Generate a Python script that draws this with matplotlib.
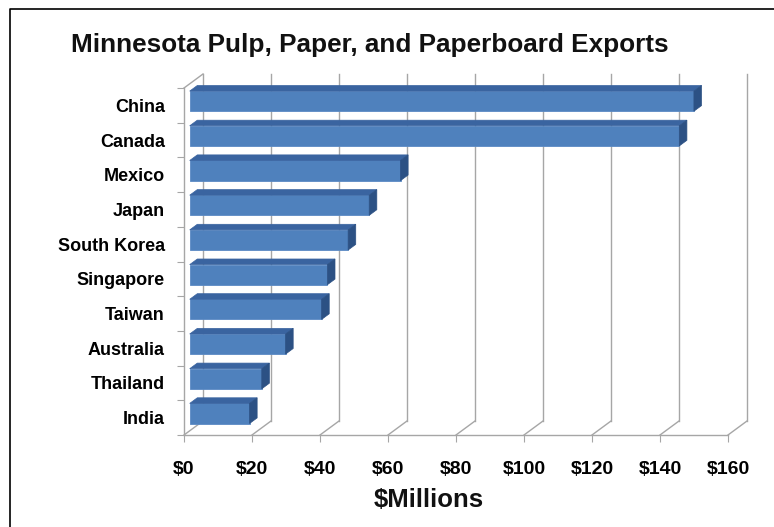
import matplotlib.pyplot as plt
from matplotlib.patches import Polygon
from matplotlib.lines import Line2D

countries = ["India", "Thailand", "Australia", "Taiwan", "Singapore",
             "South Korea", "Japan", "Mexico", "Canada", "China"]
exports = [17.6, 21.2, 28.2, 38.8, 40.5, 46.6, 52.8, 62, 144, 148.3]
ticks = [0, 20, 40, 60, 80, 100, 120, 140, 160]
tick_labels = ["$0", "$20", "$40", "$60", "$80", "$100", "$120", "$140", "$160"]

plt.rcParams["font.family"] = ["Liberation Sans", "DejaVu Sans"]

W, H = 774, 527
fig = plt.figure(figsize=(W / 100, H / 100), dpi=100)
ax = fig.add_axes([184 / W, 92 / H, 544 / W, 347 / H])
ax.set_xlim(0, 160)
ax.set_ylim(-0.5, len(countries) - 0.5)

# 3d depth of the chart box, in pixels, turned into data units
inv = ax.transData.inverted()
p0 = ax.transData.transform((0, 0))
DX, DY = inv.transform(p0 + [19, 14]) - inv.transform(p0)

grid = "#a6a6a6"
ymin, ymax = -0.5, len(countries) - 0.5
for t in ticks:
    ax.add_line(Line2D([t + DX, t + DX], [ymin + DY, ymax + DY], color=grid, lw=1, clip_on=False))
    ax.add_line(Line2D([t, t + DX], [ymin, ymin + DY], color=grid, lw=1, clip_on=False))
ax.add_line(Line2D([0, 160], [ymin, ymin], color=grid, lw=1, clip_on=False))
ax.add_line(Line2D([0, 0], [ymin, ymax], color=grid, lw=1, clip_on=False))
ax.add_line(Line2D([0, DX], [ymax, ymax + DY], color=grid, lw=1, clip_on=False))

# bars sit between 30% and 70% of the depth
f, b = 0.3, 0.7
h = 0.58
ys = list(range(len(countries)))
ax.barh([y + f * DY for y in ys], exports, height=h, left=f * DX,
        color="#4f81bd", edgecolor="#5b8ac4", lw=0.6, zorder=3, clip_on=False)
for y, v in zip(ys, exports):
    top, bot = y + h / 2, y - h / 2
    ax.add_patch(Polygon([(f * DX, top + f * DY), (v + f * DX, top + f * DY),
                          (v + b * DX, top + b * DY), (b * DX, top + b * DY)],
                         closed=True, fc="#3a64a0", ec="#3a64a0", lw=0.5, zorder=3, clip_on=False))
    ax.add_patch(Polygon([(v + f * DX, bot + f * DY), (v + f * DX, top + f * DY),
                          (v + b * DX, top + b * DY), (v + b * DX, bot + b * DY)],
                         closed=True, fc="#2c5184", ec="#2c5184", lw=0.5, zorder=3, clip_on=False))

for s in ax.spines.values():
    s.set_visible(False)
ax.set_xticks(ticks)
ax.set_xticklabels(tick_labels, fontsize=14, fontweight="bold")
ax.tick_params(axis="x", length=5, color=grid, pad=14)
ax.set_yticks([y - 0.5 for y in ys] + [ymax])
ax.set_yticklabels([])
ax.set_yticks(ys, minor=True)
ax.set_yticklabels(countries, minor=True, fontsize=13, fontweight="bold")
ax.tick_params(axis="y", which="major", length=5, color=grid)
ax.tick_params(axis="y", which="minor", length=0, pad=13.7)

fig.text(370 / W, 1 - 45 / H, "Minnesota Pulp, Paper, and Paperboard Exports",
         ha="center", va="center", fontsize=18.8, fontweight="bold", color="#111111")
fig.text(429 / W, 1 - 500 / H, "$Millions", ha="center", va="center",
         fontsize=18.5, fontweight="bold", color="#111111")

# outer frame
fig.add_artist(Line2D([10 / W, 10 / W, 1], [0, 1 - 9 / H, 1 - 9 / H],
                      color="black", lw=1.2, transform=fig.transFigure))

fig.savefig("out.png", dpi=100)
